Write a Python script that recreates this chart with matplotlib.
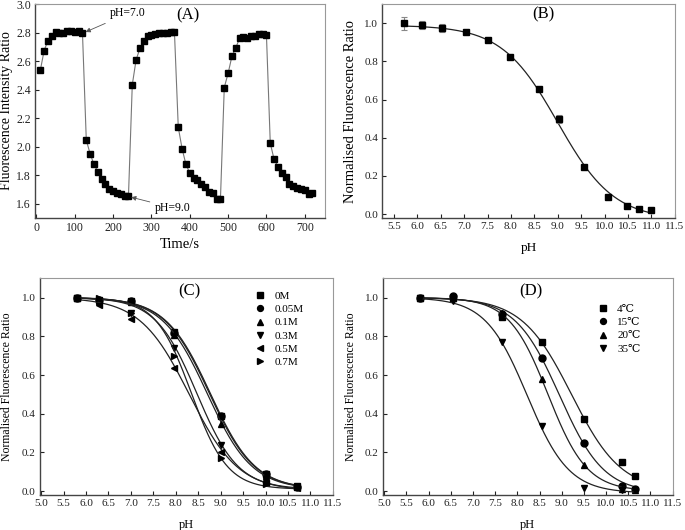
import numpy as np
import matplotlib
matplotlib.use("Agg")
import matplotlib.pyplot as plt

plt.rcParams['font.family'] = ['Liberation Serif', 'DejaVu Serif']
plt.rcParams['mathtext.fontset'] = 'stix'

# ---------------- Panel A data ----------------
time_s = list(range(10, 730, 10))
ratio_a = [2.535, 2.675, 2.745, 2.775, 2.805, 2.795, 2.80, 2.81, 2.815, 2.805, 2.81, 2.80,
           2.045, 1.95, 1.875, 1.825, 1.775, 1.735, 1.70, 1.685, 1.675, 1.67, 1.655, 1.65,
           2.435, 2.61, 2.69, 2.745, 2.775, 2.785, 2.79, 2.795, 2.80, 2.80, 2.805, 2.805,
           2.135, 1.985, 1.875, 1.815, 1.78, 1.765, 1.74, 1.715, 1.68, 1.675, 1.63, 1.63,
           2.415, 2.515, 2.635, 2.695, 2.76, 2.77, 2.765, 2.775, 2.78, 2.79, 2.79, 2.785,
           2.025, 1.91, 1.86, 1.815, 1.785, 1.735, 1.725, 1.71, 1.70, 1.695, 1.67, 1.675]

# ---------------- Panel B data ----------------
ph_b = [5.71, 6.1, 6.53, 7.03, 7.52, 7.98, 8.6, 9.02, 9.57, 10.07, 10.47, 10.73, 11.0]
ratio_b = [1.0, 0.99, 0.975, 0.955, 0.91, 0.824, 0.656, 0.497, 0.245, 0.088, 0.043, 0.026, 0.022]
err_b = [0.035, 0.02, 0.02, 0.008, 0.006, 0.006, 0.006, 0.02, 0.006, 0.006, 0.005, 0.005, 0.005]
fit_b = dict(A1=0.99, A2=-0.03, x0=9.0, dx=0.6)

# ---------------- Panel C data ----------------
ph_c = [5.8, 6.3, 7.0, 7.95, 9.0, 10.0, 10.7]
labels_c = ['0M', '0.05M', '0.1M', '0.3M', '0.5M', '0.7M']
markers_c = ['s', 'o', '^', 'v', '<', '>']
vals_c = [
    [1.0, 0.99, 0.985, 0.82, 0.39, 0.09, 0.025],
    [1.0, 0.99, 0.98, 0.815, 0.388, 0.088, 0.022],
    [1.0, 0.985, 0.975, 0.805, 0.345, 0.085, 0.02],
    [1.0, 0.985, 0.92, 0.74, 0.24, 0.045, 0.02],
    [1.0, 0.96, 0.89, 0.635, 0.20, 0.04, 0.018],
    [1.0, 1.0, 0.92, 0.70, 0.17, 0.035, 0.02],
]
fits_c = [
    (1.0, 0.01, 8.75, 0.5),
    (1.0, 0.01, 8.77, 0.5),
    (1.0, 0.01, 8.70, 0.5),
    (1.0, 0.01, 8.47, 0.46),
    (1.0, 0.0, 8.30, 0.55),
    (1.0, 0.01, 8.35, 0.40),
]

# ---------------- Panel D data ----------------
ph_d = [5.8, 6.55, 7.65, 8.55, 9.5, 10.35, 10.65]
labels_d = ['4\u2103', '15\u2103', '20\u2103', '35\u2103']
markers_d = ['s', 'o', '^', 'v']
vals_d = [
    [1.0, 1.0, 0.90, 0.77, 0.375, 0.15, 0.08],
    [1.0, 1.01, 0.915, 0.69, 0.25, 0.025, 0.01],
    [1.0, 1.0, 0.92, 0.58, 0.135, 0.01, 0.005],
    [1.0, 0.98, 0.77, 0.335, 0.015, 0.005, 0.005],
]
fits_d = [
    (1.0, 0.0, 9.22, 0.56),
    (1.0, -0.01, 8.95, 0.5),
    (1.0, 0.0, 8.69, 0.44),
    (1.0, -0.01, 8.22, 0.47),
]


def boltzmann(x, A1, A2, x0, dx):
    return A2 + (A1 - A2) / (1 + np.exp((x - x0) / dx))


fig = plt.figure(figsize=(6.85, 5.3), dpi=100)


def style(ax, size=8):
    ax.tick_params(direction='in', length=3, width=0.8, labelsize=size, colors='#222222',
                   top=False, right=False, pad=3)
    for s in ['left', 'bottom']:
        ax.spines[s].set_color('#444444')
        ax.spines[s].set_linewidth(1.0)
    for s in ['top', 'right']:
        ax.spines[s].set_color('#999999')
        ax.spines[s].set_linewidth(0.8)


fmt1 = matplotlib.ticker.FormatStrFormatter('%.1f')

# Panel A
axA = fig.add_axes([0.051, 0.589, 0.423, 0.403])
axA.plot(time_s, ratio_a, color='#777777', lw=0.8, marker='s', ms=4.5,
         mfc='black', mec='black')
axA.set_xlim(-4, 752)
axA.set_ylim(1.5, 3.0)
axA.set_xticks([0, 100, 200, 300, 400, 500, 600, 700])
axA.set_yticks([1.6, 1.8, 2.0, 2.2, 2.4, 2.6, 2.8, 3.0])
axA.yaxis.set_major_formatter(fmt1)
axA.set_xlabel('Time/s', fontsize=10.5, labelpad=3)
axA.text(395, 2.92, '(A)', fontsize=12, ha='center', va='center')
axA.annotate('pH=7.0', xy=(128, 2.805), xytext=(192, 2.935), fontsize=8.5,
             ha='left', va='center',
             arrowprops=dict(arrowstyle='-|>', color='#555555', lw=0.6,
                             mutation_scale=7, shrinkA=2, shrinkB=0))
axA.annotate('pH=9.0', xy=(247, 1.645), xytext=(310, 1.57), fontsize=8.5,
             ha='left', va='center',
             arrowprops=dict(arrowstyle='-|>', color='#555555', lw=0.6,
                             mutation_scale=7, shrinkA=2, shrinkB=0))
style(axA, 8.5)
axA.set_ylabel('Fluorescence Intensity Ratio', fontsize=10)
axA.yaxis.set_label_coords(-0.075, 0.5)

# Panel B
axB = fig.add_axes([0.558, 0.589, 0.427, 0.403])
xf = np.linspace(min(ph_b), max(ph_b), 300)
axB.plot(xf, boltzmann(xf, **fit_b), color='#222222', lw=0.9)
axB.errorbar(ph_b, ratio_b, yerr=err_b, fmt='s', ms=5, color='black',
             ecolor='#888888', elinewidth=0.8, capsize=2, capthick=0.8)
axB.set_xlim(5.25, 11.5)
axB.set_ylim(-0.02, 1.1)
axB.set_xticks(np.arange(5.5, 11.51, 0.5))
axB.set_yticks(np.arange(0, 1.01, 0.2))
axB.xaxis.set_major_formatter(fmt1)
axB.yaxis.set_major_formatter(fmt1)
axB.set_xlabel('pH', fontsize=9.5, labelpad=8)
axB.set_ylabel('Normalised Fluorescence Ratio', fontsize=10.5, labelpad=5)
axB.text(8.7, 1.045, '(B)', fontsize=12, ha='center', va='center')
style(axB)

# Panel C
axC = fig.add_axes([0.058, 0.066, 0.428, 0.409])
xc = np.linspace(min(ph_c), max(ph_c), 300)
for vals, mk, lab, p in zip(vals_c, markers_c, labels_c, fits_c):
    axC.plot(xc, boltzmann(xc, *p), color='#222222', lw=0.9)
    axC.plot(ph_c, vals, linestyle='none', marker=mk, ms=5, color='black', label=lab)
axC.set_xlim(4.97, 11.5)
axC.set_ylim(-0.02, 1.1)
axC.set_xticks(np.arange(5.0, 11.51, 0.5))
axC.set_yticks(np.arange(0, 1.01, 0.2))
axC.xaxis.set_major_formatter(fmt1)
axC.yaxis.set_major_formatter(fmt1)
axC.set_xlabel('pH', fontsize=9, labelpad=8)
axC.set_ylabel('Normalised Fluorescence Ratio', fontsize=8.5, labelpad=6)
axC.text(8.3, 1.03, '(C)', fontsize=12, ha='center', va='center')
axC.legend(loc='upper left', bbox_to_anchor=(0.715, 0.965), frameon=False, fontsize=8,
           handlelength=1.0, handletextpad=0.8, labelspacing=0.3, borderpad=0,
           markerscale=0.85)
style(axC)

# Panel D
axD = fig.add_axes([0.559, 0.066, 0.423, 0.409])
xd = np.linspace(min(ph_d), max(ph_d), 300)
for vals, mk, lab, p in zip(vals_d, markers_d, labels_d, fits_d):
    axD.plot(xd, boltzmann(xd, *p), color='#222222', lw=0.9)
    axD.plot(ph_d, vals, linestyle='none', marker=mk, ms=5, color='black', label=lab)
axD.set_xlim(4.97, 11.5)
axD.set_ylim(-0.02, 1.1)
axD.set_xticks(np.arange(5.0, 11.51, 0.5))
axD.set_yticks(np.arange(0, 1.01, 0.2))
axD.xaxis.set_major_formatter(fmt1)
axD.yaxis.set_major_formatter(fmt1)
axD.set_xlabel('pH', fontsize=9, labelpad=8)
axD.set_ylabel('Normalised Fluorescence Ratio', fontsize=8.5, labelpad=6)
axD.text(8.3, 1.03, '(D)', fontsize=12, ha='center', va='center')
axD.legend(loc='upper left', bbox_to_anchor=(0.72, 0.905), frameon=False,
           handlelength=1.0, handletextpad=0.8, labelspacing=0.3, borderpad=0,
           markerscale=0.85,
           prop={'family': ['Liberation Serif', 'DejaVu Serif', 'Noto Sans CJK SC'], 'size': 8})
style(axD)

fig.savefig('out.png', dpi=100)
